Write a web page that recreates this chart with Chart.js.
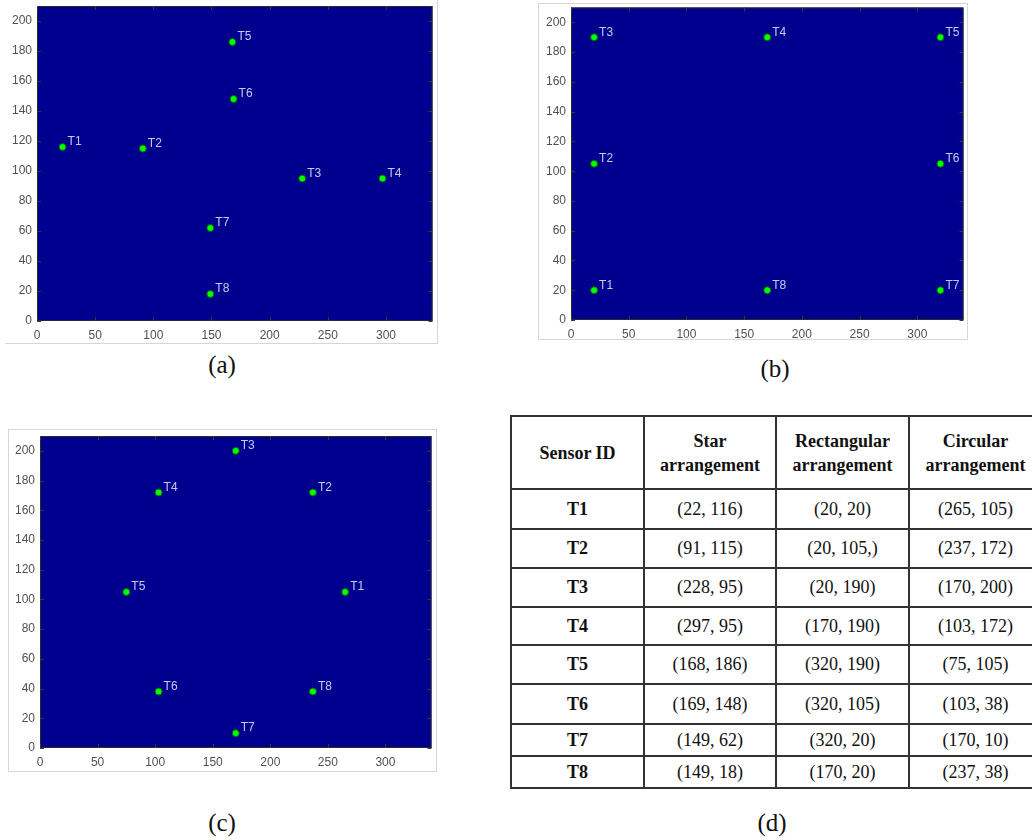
<!DOCTYPE html>
<html><head><meta charset="utf-8">
<script src="https://cdn.jsdelivr.net/npm/chart.js@4.4.0/dist/chart.umd.min.js"></script>
<style>
html,body{margin:0;padding:0;background:#fff;width:1032px;height:840px;overflow:hidden;position:relative;}
.frame{position:absolute;box-sizing:border-box;border:1px solid #d6d6d6;}
.holder{position:absolute;}
.holder canvas{display:block;}
.cap{position:absolute;font-family:"Liberation Serif","Times New Roman",serif;font-size:25px;color:#111;transform:translate(-50%,-50%);white-space:nowrap;line-height:1;}
table{position:absolute;left:510px;top:415px;width:531px;border-collapse:collapse;table-layout:fixed;font-family:"Liberation Serif","Times New Roman",serif;font-size:18px;color:#111;}
td,th{border:2px solid #333;text-align:center;padding:0;overflow:hidden;white-space:nowrap;}
th{font-weight:bold;line-height:24px;}
td.id{font-weight:bold;}
</style></head>
<body>
<div class="frame" style="left:5px;top:-2px;width:433px;height:346px;border-left-color:transparent;border-top-color:transparent;"></div>
<div class="holder" style="left:5px;top:0px;"><canvas id="ca" width="432" height="343"></canvas></div>
<div class="cap" style="left:222px;top:364px;">(a)</div>

<div class="frame" style="left:538px;top:3px;width:430px;height:337px;"></div>
<div class="holder" style="left:538px;top:3px;"><canvas id="cb" width="430" height="336"></canvas></div>
<div class="cap" style="left:775px;top:368px;">(b)</div>

<div class="frame" style="left:8px;top:429px;width:429px;height:343px;"></div>
<div class="holder" style="left:8px;top:429px;"><canvas id="cc" width="428" height="342"></canvas></div>
<div class="cap" style="left:222px;top:822px;">(c)</div>

<table id="tbl">
<colgroup><col style="width:133px"><col style="width:132px"><col style="width:133px"><col style="width:133px"></colgroup>
<thead><tr style="height:73px"><th>Sensor ID</th><th>Star<br>arrangement</th><th>Rectangular<br>arrangement</th><th>Circular<br>arrangement</th></tr></thead>
<tbody id="tbody"></tbody>
</table>
<div class="cap" style="left:772px;top:822px;">(d)</div>

<script>
// ---- data ----
const sensorIds = ['T1','T2','T3','T4','T5','T6','T7','T8'];
const starX = [22, 91, 228, 297, 168, 169, 149, 149];
const starY = [116, 115, 95, 95, 186, 148, 62, 18];
const rectX = [20, 20, 20, 170, 320, 320, 320, 170];
const rectY = [20, 105, 190, 190, 190, 105, 20, 20];
const circX = [265, 237, 170, 103, 75, 103, 170, 237];
const circY = [105, 172, 200, 172, 105, 38, 10, 38];
const xTickStep = 50, yTickStep = 20;
const xMax = 340, yMax = 210;

// ---- table (built from the arrays; T2 rectangular entry printed as "(20, 105,)" in the source) ----
const rowHeights = [40, 39, 39, 38, 39, 40, 32, 32];
const tb = document.getElementById('tbody');
sensorIds.forEach((id, i) => {
  const tr = document.createElement('tr');
  tr.style.height = rowHeights[i] + 'px';
  const cells = [
    id,
    `(${starX[i]}, ${starY[i]})`,
    `(${rectX[i]}, ${rectY[i]}${i === 1 ? ',' : ''})`,
    `(${circX[i]}, ${circY[i]})`
  ];
  cells.forEach((t, j) => {
    const td = document.createElement('td');
    td.textContent = t;
    if (j === 0) td.className = 'id';
    tr.appendChild(td);
  });
  tb.appendChild(tr);
});

// ---- charts ----
const plotDecor = {
  id: 'plotDecor',
  beforeDatasetsDraw(chart) {
    const {ctx, chartArea: a} = chart;
    ctx.save();
    ctx.fillStyle = '#00008f';
    ctx.fillRect(a.left, a.top, a.right - a.left, a.bottom - a.top);
    ctx.restore();
  },
  afterDatasetsDraw(chart) {
    const {ctx, chartArea: a, scales} = chart;
    ctx.save();
    ctx.strokeStyle = '#2a2a2a';
    ctx.lineWidth = 1;
    ctx.strokeRect(a.left + 0.5, a.top + 0.5, a.right - a.left - 1, a.bottom - a.top - 1);
    ctx.strokeStyle = '#3a3a3a';
    ctx.beginPath();
    scales.x.ticks.forEach(t => {
      const px = Math.round(scales.x.getPixelForValue(t.value)) + 0.5;
      ctx.moveTo(px, a.bottom); ctx.lineTo(px, a.bottom - 4);
      ctx.moveTo(px, a.top); ctx.lineTo(px, a.top + 4);
    });
    scales.y.ticks.forEach(t => {
      const py = Math.round(scales.y.getPixelForValue(t.value)) + 0.5;
      ctx.moveTo(a.left, py); ctx.lineTo(a.left + 4, py);
      ctx.moveTo(a.right, py); ctx.lineTo(a.right - 4, py);
    });
    ctx.stroke();
    ctx.fillStyle = '#c9c9ee';
    ctx.font = '12px "Liberation Sans", Arial, sans-serif';
    ctx.textAlign = 'left';
    ctx.textBaseline = 'middle';
    chart.getDatasetMeta(0).data.forEach((pt, i) => {
      ctx.fillText(sensorIds[i], pt.x + 5, pt.y - 5);
    });
    ctx.restore();
  }
};

function makeChart(id, xs, ys, g) {
  const tickFont = {family: '"Liberation Sans", Arial, sans-serif', size: 12};
  return new Chart(document.getElementById(id), {
    type: 'scatter',
    data: {
      datasets: [{
        data: xs.map((x, i) => ({x: x, y: ys[i]})),
        pointRadius: 3.5,
        pointHoverRadius: 3.5,
        backgroundColor: '#00ff00',
        borderColor: '#0b5c0b',
        borderWidth: 1
      }]
    },
    options: {
      responsive: false,
      animation: false,
      events: [],
      layout: {padding: {left: 0, top: g.top, right: g.right, bottom: 0}},
      plugins: {legend: {display: false}, tooltip: {enabled: false}},
      scales: {
        x: {
          type: 'linear', min: 0, max: xMax,
          afterFit: s => { s.height = g.xh; s.paddingLeft = 0; s.paddingRight = 0; },
          ticks: {stepSize: xTickStep, includeBounds: false, padding: 7, font: tickFont, color: '#505050', maxRotation: 0},
          grid: {display: false, drawTicks: false},
          border: {display: false}
        },
        y: {
          type: 'linear', min: 0, max: yMax,
          afterFit: s => { s.width = g.yw; s.paddingTop = 0; s.paddingBottom = 0; },
          ticks: {stepSize: yTickStep, includeBounds: false, padding: 5, font: tickFont, color: '#505050'},
          grid: {display: false, drawTicks: false},
          border: {display: false}
        }
      }
    },
    plugins: [plotDecor]
  });
}

makeChart('ca', starX, starY, {top: 6, right: 2, yw: 32, xh: 22});
makeChart('cb', rectX, rectY, {top: 4, right: 2, yw: 33, xh: 19});
makeChart('cc', circX, circY, {top: 7, right: 3, yw: 32, xh: 23});
</script>
</body></html>
